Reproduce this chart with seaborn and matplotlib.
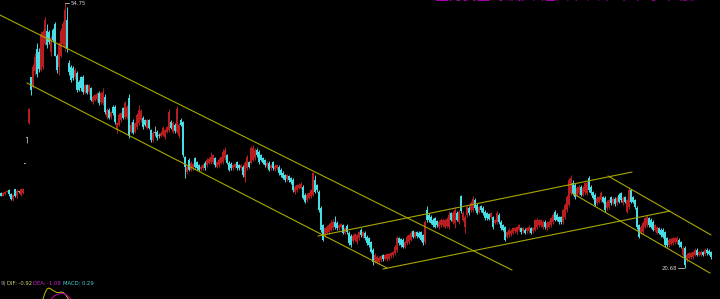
import numpy as np
import pandas as pd
import matplotlib
matplotlib.use("Agg")
import matplotlib.pyplot as plt
import seaborn as sns

# ---------------- data (daily candles, price in yuan) ----------------
opens = [
    30.3, 30.0, 30.2, 30.5, 30.7, 30.2, 29.5, 30.8, 29.9, 30.5,
    30.1, 30.3, 34.0, 37.4, 39.3, 45.2, 44.0, 46.0, 48.9, 48.5,
    46.2, 46.5, 49.5, 51.2, 51.0, 48.4, 51.3, 52.0, 48.0, 46.5,
    48.0, 49.5, 49.0, 52.6, 47.0, 46.5, 46.4, 45.2, 45.8, 44.6,
    45.2, 45.3, 43.3, 44.2, 43.3, 43.8, 42.0, 42.3, 42.4, 43.2,
    42.0, 41.9, 42.7, 40.1, 41.0, 40.1, 41.4, 41.4, 38.4, 39.1,
    39.7, 41.2, 40.1, 40.1, 42.5, 38.2, 39.5, 38.2, 38.8, 39.3,
    39.7, 40.0, 39.7, 38.7, 39.7, 38.4, 37.2, 38.0, 38.2, 37.7,
    37.7, 37.8, 37.5, 38.2, 38.4, 39.5, 38.2, 39.1, 38.2, 37.6,
    39.7, 39.4, 34.9, 33.0, 34.6, 33.3, 33.5, 34.8, 34.3, 33.9,
    33.4, 33.5, 34.2, 33.9, 34.2, 34.3, 34.3, 34.8, 33.7, 33.9,
    34.2, 34.3, 34.8, 35.2, 34.2, 34.1, 33.5, 33.7, 34.3, 33.9,
    33.5, 33.7, 32.4, 33.5, 34.3, 34.2, 34.6, 34.8, 35.8, 35.6,
    35.2, 34.8, 34.6, 33.8, 34.2, 33.5, 34.3, 33.4, 33.5, 33.7,
    33.3, 32.9, 32.6, 32.1, 32.5, 32.3, 32.0, 30.4, 30.7, 31.0,
    31.0, 31.1, 30.1, 29.4, 29.7, 29.9, 30.1, 32.0, 31.3, 30.5,
    28.4, 26.2, 24.9, 25.2, 25.3, 25.6, 25.8, 26.6, 26.5, 25.8,
    25.9, 26.2, 25.2, 26.1, 25.2, 24.8, 24.1, 24.3, 24.0, 24.5,
    25.6, 24.8, 25.2, 24.7, 24.5, 24.0, 23.0, 21.5, 21.3, 21.4,
    21.7, 22.3, 21.9, 21.8, 21.9, 22.2, 22.3, 22.6, 23.0, 24.5,
    24.4, 24.3, 23.4, 23.9, 24.0, 24.3, 25.4, 24.7, 25.3, 25.2,
    25.3, 24.9, 24.0, 28.1, 27.5, 27.3, 26.9, 27.1, 26.7, 25.9,
    26.2, 26.2, 26.0, 26.1, 25.9, 27.7, 26.6, 26.5, 27.7, 26.6,
    29.9, 26.9, 25.9, 27.5, 28.4, 28.1, 28.1, 29.4, 28.8, 27.9,
    28.6, 28.4, 27.9, 27.7, 27.6, 27.2, 27.2, 26.5, 26.6, 27.5,
    26.6, 26.2, 25.9, 24.7, 24.9, 25.0, 25.2, 25.4, 25.3, 25.6,
    25.8, 25.4, 25.6, 25.4, 25.4, 25.8, 25.4, 25.6, 25.9, 26.2,
    26.2, 25.9, 26.6, 25.8, 26.0, 26.2, 26.6, 27.9, 27.5, 27.2,
    27.2, 26.6, 27.2, 28.1, 28.8, 30.3, 31.6, 31.4, 30.1, 30.3,
    31.1, 30.1, 30.4, 30.3, 32.2, 31.1, 30.4, 30.1, 29.0, 29.2,
    29.4, 29.8, 29.7, 28.4, 28.5, 29.8, 29.0, 29.6, 29.0, 30.1,
    30.3, 29.0, 29.8, 27.9, 28.5, 30.7, 29.8, 29.4, 28.4, 26.2,
    25.3, 25.3, 26.0, 26.2, 27.1, 26.9, 26.6, 25.6, 25.2, 25.8,
    25.6, 25.6, 25.3, 24.5, 23.6, 23.8, 23.9, 24.0, 24.0, 24.3,
    24.0, 22.4, 23.3, 21.7, 22.0, 22.1, 22.1, 22.4, 23.0, 22.4,
    22.4, 22.7, 22.5, 23.0, 22.9, 22.7,
]
highs = [
    30.4, 30.4, 30.6, 30.7, 30.8, 30.3, 30.2, 30.9, 30.8, 30.6,
    30.9, 31.0, 34.0, 37.5, 41.2, 45.3, 46.9, 48.3, 49.6, 49.0,
    51.1, 51.3, 53.0, 52.0, 51.3, 50.5, 51.5, 52.3, 48.2, 49.8,
    51.5, 52.4, 54.75, 54.2, 47.4, 46.8, 46.7, 46.4, 46.0, 44.8,
    45.4, 45.5, 44.4, 44.4, 44.3, 44.0, 42.9, 43.1, 43.3, 43.4,
    43.3, 43.8, 43.0, 41.2, 41.2, 40.9, 41.6, 41.7, 39.5, 40.6,
    40.8, 41.4, 42.2, 41.6, 43.0, 39.4, 39.8, 39.5, 40.6, 41.6,
    41.1, 40.2, 39.9, 39.9, 39.9, 38.6, 38.3, 38.9, 38.4, 38.0,
    38.3, 38.9, 38.6, 39.0, 41.1, 39.7, 39.6, 39.3, 41.5, 39.3,
    40.0, 39.6, 35.1, 33.9, 34.8, 34.4, 34.2, 35.0, 34.5, 34.0,
    33.9, 34.1, 34.4, 34.8, 34.9, 35.6, 35.4, 35.0, 34.5, 34.8,
    35.1, 36.0, 36.3, 35.4, 34.4, 34.3, 34.1, 34.2, 34.5, 34.1,
    34.0, 33.9, 34.5, 35.2, 34.5, 36.4, 36.5, 36.1, 36.1, 35.8,
    35.4, 35.0, 34.7, 34.4, 34.4, 34.1, 34.5, 34.0, 34.0, 33.9,
    33.5, 33.1, 32.8, 32.8, 32.7, 32.4, 32.2, 31.3, 31.5, 31.6,
    31.8, 31.3, 30.3, 30.3, 30.5, 30.9, 33.0, 32.6, 31.5, 30.7,
    28.6, 26.4, 26.0, 26.2, 26.5, 26.8, 27.0, 27.4, 26.7, 26.4,
    26.5, 26.4, 26.0, 26.3, 25.4, 25.0, 25.0, 25.2, 25.1, 25.5,
    25.8, 25.5, 25.4, 24.9, 24.7, 24.1, 23.2, 22.6, 22.3, 22.2,
    22.4, 22.5, 22.5, 22.6, 22.6, 22.8, 22.9, 23.6, 24.8, 24.7,
    24.6, 24.5, 24.2, 24.9, 25.1, 25.5, 25.6, 25.5, 25.5, 25.4,
    25.5, 25.1, 26.8, 28.6, 27.7, 27.5, 27.1, 27.3, 26.9, 26.8,
    27.1, 27.0, 27.0, 27.2, 28.0, 27.9, 28.0, 28.5, 28.0, 28.2,
    30.1, 28.0, 27.5, 28.8, 28.6, 29.3, 30.0, 29.7, 29.0, 28.7,
    28.8, 28.6, 28.1, 27.9, 27.8, 27.9, 27.4, 27.0, 28.0, 27.7,
    26.8, 26.4, 26.1, 25.5, 25.8, 25.7, 26.0, 26.0, 26.1, 26.4,
    26.0, 26.0, 25.8, 26.0, 26.2, 26.0, 26.0, 27.0, 27.1, 27.0,
    27.0, 26.8, 26.8, 26.7, 26.8, 27.3, 27.7, 28.1, 27.7, 27.4,
    27.4, 28.3, 29.0, 30.1, 32.3, 32.7, 32.0, 31.6, 31.2, 31.3,
    31.3, 31.2, 31.8, 31.9, 32.5, 31.3, 30.6, 30.3, 29.9, 30.0,
    30.6, 30.0, 29.9, 29.4, 29.6, 30.0, 29.8, 29.8, 29.9, 30.3,
    30.5, 29.9, 30.0, 29.6, 31.0, 30.9, 30.0, 29.6, 28.6, 26.4,
    26.2, 26.7, 27.3, 27.5, 27.3, 27.1, 26.8, 26.4, 26.1, 26.0,
    25.8, 25.8, 25.5, 24.7, 24.5, 24.6, 24.7, 24.7, 24.8, 24.5,
    24.2, 23.5, 23.5, 22.6, 22.8, 22.8, 22.9, 23.2, 23.2, 22.9,
    23.0, 22.9, 23.2, 23.2, 23.1, 22.9,
]
lows = [
    29.9, 29.9, 30.1, 30.4, 30.0, 29.4, 29.3, 29.8, 29.7, 30.3,
    30.0, 30.2, 34.0, 36.8, 39.2, 42.9, 43.8, 45.5, 45.2, 45.9,
    46.0, 46.3, 49.3, 49.0, 49.5, 48.0, 49.8, 47.9, 45.8, 45.5,
    47.8, 49.2, 48.6, 48.5, 45.5, 44.6, 44.8, 45.0, 43.3, 43.4,
    43.5, 43.0, 43.1, 43.0, 43.1, 42.1, 41.8, 42.1, 42.2, 41.7,
    41.8, 41.7, 40.5, 39.9, 39.8, 39.9, 40.4, 39.2, 38.0, 38.9,
    39.5, 39.8, 39.9, 39.9, 37.4, 38.0, 37.9, 38.0, 38.6, 39.1,
    39.5, 38.6, 38.9, 38.5, 38.5, 36.9, 36.9, 37.6, 37.2, 37.4,
    37.5, 37.6, 37.3, 38.0, 38.2, 38.5, 38.0, 38.1, 38.0, 37.4,
    38.9, 35.0, 32.2, 32.8, 33.1, 33.1, 33.3, 33.5, 33.3, 33.1,
    33.2, 33.3, 33.3, 33.7, 34.0, 34.1, 34.1, 33.7, 33.5, 33.7,
    34.0, 34.1, 34.6, 34.0, 33.1, 33.3, 33.3, 33.5, 33.3, 33.3,
    33.3, 32.4, 31.7, 33.3, 33.5, 34.0, 34.4, 34.6, 35.0, 34.1,
    34.4, 34.0, 33.7, 33.6, 33.1, 33.3, 33.3, 33.2, 33.3, 32.7,
    32.4, 32.1, 31.8, 31.9, 31.8, 31.5, 30.5, 30.2, 30.5, 30.8,
    30.8, 29.5, 29.0, 29.2, 29.5, 29.7, 29.9, 30.3, 30.5, 27.9,
    25.3, 24.1, 24.7, 25.0, 25.1, 25.4, 25.6, 25.7, 25.6, 25.6,
    25.8, 25.0, 25.0, 25.1, 23.7, 23.4, 23.9, 24.1, 23.8, 24.3,
    24.7, 24.6, 24.3, 23.7, 23.4, 22.6, 21.1, 21.3, 21.2, 21.2,
    21.5, 21.6, 21.7, 21.6, 21.7, 22.0, 22.1, 22.4, 22.8, 23.7,
    23.4, 23.2, 23.2, 23.7, 23.8, 24.1, 24.5, 24.5, 24.6, 24.5,
    24.1, 23.7, 23.8, 26.6, 26.6, 26.3, 26.0, 25.8, 26.0, 25.7,
    26.0, 26.0, 25.8, 25.9, 25.7, 26.7, 26.4, 25.8, 26.7, 26.4,
    27.8, 26.7, 25.2, 27.3, 27.5, 27.9, 27.9, 28.2, 27.6, 27.7,
    27.9, 27.5, 26.9, 26.9, 26.8, 27.0, 25.7, 26.3, 26.4, 26.4,
    25.6, 25.4, 24.1, 24.5, 24.7, 24.8, 25.0, 25.2, 25.1, 25.4,
    25.1, 25.2, 25.0, 25.2, 25.2, 25.0, 25.2, 25.4, 25.7, 26.0,
    26.0, 25.7, 25.7, 25.6, 25.8, 26.0, 26.4, 26.7, 26.7, 26.4,
    26.4, 26.4, 27.0, 27.9, 28.6, 30.1, 30.1, 29.6, 29.9, 30.1,
    29.9, 29.9, 30.2, 30.1, 30.5, 30.1, 29.5, 28.6, 28.8, 29.0,
    29.2, 29.0, 27.9, 28.2, 28.3, 28.8, 28.8, 28.7, 28.8, 29.0,
    29.2, 28.8, 29.0, 27.7, 28.3, 29.0, 29.0, 28.3, 25.7, 24.5,
    25.1, 25.1, 25.8, 26.0, 26.0, 25.8, 25.4, 25.4, 25.0, 25.0,
    24.7, 24.5, 23.4, 23.4, 23.4, 23.6, 23.7, 23.8, 23.8, 23.4,
    23.2, 22.2, 20.68, 21.5, 21.8, 21.9, 21.9, 22.2, 22.2, 22.2,
    22.2, 22.2, 22.3, 22.4, 22.3, 21.9,
]
closes = [
    30.0, 30.3, 30.5, 30.6, 30.2, 29.6, 30.1, 30.0, 30.6, 30.5,
    30.8, 30.9, 34.0, 37.4, 41.1, 43.6, 46.5, 47.8, 45.6, 46.3,
    50.8, 51.0, 52.6, 49.3, 49.8, 50.3, 50.0, 48.0, 46.2, 49.5,
    51.2, 52.0, 53.8, 48.8, 45.9, 44.9, 45.1, 46.1, 43.6, 43.6,
    43.8, 43.3, 44.2, 43.2, 44.2, 42.3, 42.7, 42.9, 43.0, 41.9,
    43.2, 43.3, 40.7, 41.0, 40.0, 40.7, 40.6, 39.4, 39.3, 40.4,
    40.6, 40.0, 41.9, 41.4, 37.6, 39.1, 38.0, 39.3, 40.3, 41.0,
    40.9, 38.8, 39.1, 39.7, 38.7, 37.1, 38.1, 38.0, 37.4, 37.7,
    38.1, 38.7, 38.4, 38.8, 40.7, 38.7, 39.3, 38.3, 41.1, 39.1,
    39.1, 35.2, 33.7, 33.7, 33.3, 34.2, 34.0, 33.7, 33.5, 33.3,
    33.7, 33.9, 33.5, 34.6, 34.7, 35.0, 35.2, 33.9, 34.3, 34.6,
    34.9, 35.6, 35.8, 34.2, 33.3, 33.5, 33.9, 34.0, 33.5, 33.5,
    33.9, 32.6, 34.2, 34.9, 33.7, 36.1, 36.1, 35.8, 35.2, 34.3,
    34.6, 34.2, 33.9, 34.2, 33.3, 33.9, 33.5, 33.8, 33.9, 32.9,
    32.6, 32.3, 32.0, 32.6, 32.0, 31.7, 30.7, 31.1, 31.3, 31.4,
    31.5, 29.7, 29.2, 30.1, 30.3, 30.7, 32.9, 30.5, 30.7, 28.1,
    25.6, 24.3, 25.8, 26.0, 26.2, 26.5, 26.6, 25.9, 25.8, 26.2,
    26.3, 25.2, 25.8, 25.3, 23.9, 23.6, 24.8, 25.0, 24.9, 25.3,
    24.9, 25.3, 24.5, 23.9, 23.6, 22.8, 21.4, 22.4, 22.1, 22.0,
    22.2, 21.8, 22.3, 22.5, 22.5, 22.6, 22.7, 23.4, 24.5, 23.9,
    23.6, 23.4, 24.0, 24.7, 24.9, 25.2, 24.7, 25.3, 24.8, 24.7,
    24.3, 23.9, 26.6, 26.8, 26.8, 26.5, 26.2, 26.0, 26.2, 26.6,
    26.9, 26.8, 26.8, 27.0, 27.5, 26.9, 27.8, 28.1, 26.9, 27.9,
    28.0, 27.8, 27.2, 28.5, 27.7, 29.0, 29.5, 28.4, 27.8, 28.5,
    28.1, 27.7, 27.1, 27.1, 27.0, 27.7, 25.9, 26.8, 27.7, 26.6,
    25.8, 25.6, 24.3, 25.3, 25.6, 25.5, 25.8, 25.8, 25.9, 26.2,
    25.3, 25.8, 25.2, 25.8, 25.9, 25.2, 25.8, 26.8, 26.8, 26.8,
    26.8, 26.6, 25.9, 26.5, 26.6, 27.1, 27.5, 26.9, 26.9, 26.6,
    26.6, 28.1, 28.8, 29.8, 32.0, 32.2, 30.3, 29.8, 31.0, 31.1,
    30.1, 31.0, 31.6, 31.6, 30.7, 30.3, 29.7, 28.8, 29.7, 29.8,
    30.3, 29.2, 28.1, 29.2, 29.4, 29.0, 29.6, 28.9, 29.7, 29.2,
    29.4, 29.7, 29.2, 29.4, 30.7, 29.2, 29.2, 28.5, 25.9, 24.7,
    26.0, 26.5, 27.1, 27.2, 26.2, 26.0, 25.6, 26.2, 25.9, 25.2,
    24.9, 24.7, 23.6, 23.6, 24.3, 24.4, 24.5, 24.5, 24.5, 23.6,
    23.4, 23.3, 21.1, 22.4, 22.6, 22.6, 22.7, 23.0, 22.4, 22.7,
    22.8, 22.4, 23.0, 22.6, 22.5, 22.1,
]

# channel (trend) lines: candle index and price at both ends
channel_names = ["A", "A", "B", "B", "C", "C", "D", "D", "E", "E", "F", "F"]
channel_idx = [-0.5, 255.5, 13, 193, 191, 334.5, 158.5, 315.5, 303.5, 355, 285.5, 354.5]
channel_price = [53.2, 20.42, 44.46, 20.68, 20.55, 28.01, 24.79, 33.02, 32.51, 24.93, 30.32, 20.03]

# MACD sub-panel (visible top part only)
dif_idx = [20, 21, 22, 23, 24, 25, 26, 27, 28, 29, 30, 31, 32, 33, 34, 35]
dif_vals = [2.6, 3.0, 3.6, 4.0, 4.1, 4.0, 3.85, 3.75, 3.65, 3.65, 3.7, 3.65, 3.5, 3.2, 2.9, 2.6]
dea_idx = [24, 25, 26, 27, 28, 29, 30, 31, 32, 33, 34, 35, 36]
dea_vals = [2.7, 3.0, 3.2, 3.35, 3.45, 3.5, 3.55, 3.55, 3.5, 3.35, 3.2, 3.0, 2.8]

high_label = "54.75"
low_label = "20.68"
macd_texts = ["9)", "DIF: -0.92", "DEA: -1.08", "MACD: 0.29"]
title_text = "▲ 主力资金 净流入  超大单 大单 中单 小单 散户"

# ---------------- style ----------------
sns.set_theme(style="dark", rc={"axes.facecolor": "black", "figure.facecolor": "black"})
plt.rcParams["font.family"] = ["DejaVu Sans", "Noto Sans CJK SC"]

RED = "#b81e20"
CYAN = "#48dce4"
GRAY = "#a0a0a0"
OLIVE = "#a8a800"

n = min(len(opens), len(highs), len(lows), len(closes))
df = pd.DataFrame({"open": opens[:n], "high": highs[:n], "low": lows[:n], "close": closes[:n]})
df["idx"] = np.arange(n)

fig = plt.figure(figsize=(7.2, 2.99), dpi=100)
fig.patch.set_facecolor("black")
ax = fig.add_axes([0, 24 / 299, 1, 275 / 299])
ax2 = fig.add_axes([0, 0, 1, 24 / 299])
for a in (ax, ax2):
    a.set_facecolor("black")
    a.set_xlim(-0.5, 359.5)
    a.set_axis_off()
ax.set_ylim(19.78, 55.14)
ax2.set_ylim(3.0, 5.4)

up = df["close"] > df["open"]
down = df["close"] < df["open"]
colors = np.where(up, RED, np.where(down, CYAN, GRAY))

ax.vlines(df["idx"], df["low"], df["high"], colors=colors, linewidth=0.7)
body_bottom = np.minimum(df["open"], df["close"])
body_h = np.maximum((df["close"] - df["open"]).abs(), 0.12)
ax.bar(df["idx"], body_h, bottom=body_bottom, width=0.75, color=colors, linewidth=0)

# channel lines
ch = pd.DataFrame({"name": channel_names, "idx": channel_idx, "price": channel_price})
sns.lineplot(data=ch, x="idx", y="price", units="name", estimator=None, sort=False,
             color=OLIVE, linewidth=0.8, ax=ax, legend=False)
ax.set_xlim(-0.5, 359.5)
ax.set_ylim(19.78, 55.14)
ax.set_axis_off()

# high / low markers
hi_i = int(np.argmax(df["high"]))
lo_i = int(np.argmin(df["low"]))
ax.plot([hi_i, hi_i + 2.2], [df["high"][hi_i]] * 2, color="#c8c8c8", linewidth=0.6)
ax.text(hi_i + 2.8, df["high"][hi_i], high_label, color="#d0d0d0", fontsize=3.9,
        va="center", ha="left")
ax.plot([lo_i - 3.5, lo_i - 0.4], [df["low"][lo_i]] * 2, color="#c8c8c8", linewidth=0.6)
ax.text(lo_i - 3.8, df["low"][lo_i], low_label, color="#d0d0d0", fontsize=3.9,
        va="center", ha="right")

# MACD lines
dif_df = pd.DataFrame({"idx": dif_idx, "v": dif_vals})
dea_df = pd.DataFrame({"idx": dea_idx, "v": dea_vals})
sns.lineplot(data=dif_df, x="idx", y="v", color="#c0c000", linewidth=0.7, ax=ax2)
sns.lineplot(data=dea_df, x="idx", y="v", color="#c000c0", linewidth=0.7, ax=ax2)
ax2.set_xlim(-0.5, 359.5)
ax2.set_ylim(3.0, 5.4)
ax2.set_axis_off()

yb = (299 - 285) / 299
fig.text(0.5 / 720, yb, macd_texts[0], color="#a0a0a0", fontsize=3.8, ha="left", va="baseline")
fig.text(7 / 720, yb, macd_texts[1], color="#d8d070", fontsize=3.8, ha="left", va="baseline")
fig.text(33 / 720, yb, macd_texts[2], color="#d020d0", fontsize=3.8, ha="left", va="baseline")
fig.text(63 / 720, yb, macd_texts[3], color="#40d0d0", fontsize=3.8, ha="left", va="baseline")

# clipped magenta header at the top right (only its lower edge shows, as in the source)
fig.text(418 / 720, 1 + 0.6 / 299, title_text, color="#a800b0", fontsize=10,
         ha="left", va="baseline", family=["Noto Sans CJK SC", "DejaVu Sans"])

fig.savefig("out.png", dpi=100, facecolor="black")
